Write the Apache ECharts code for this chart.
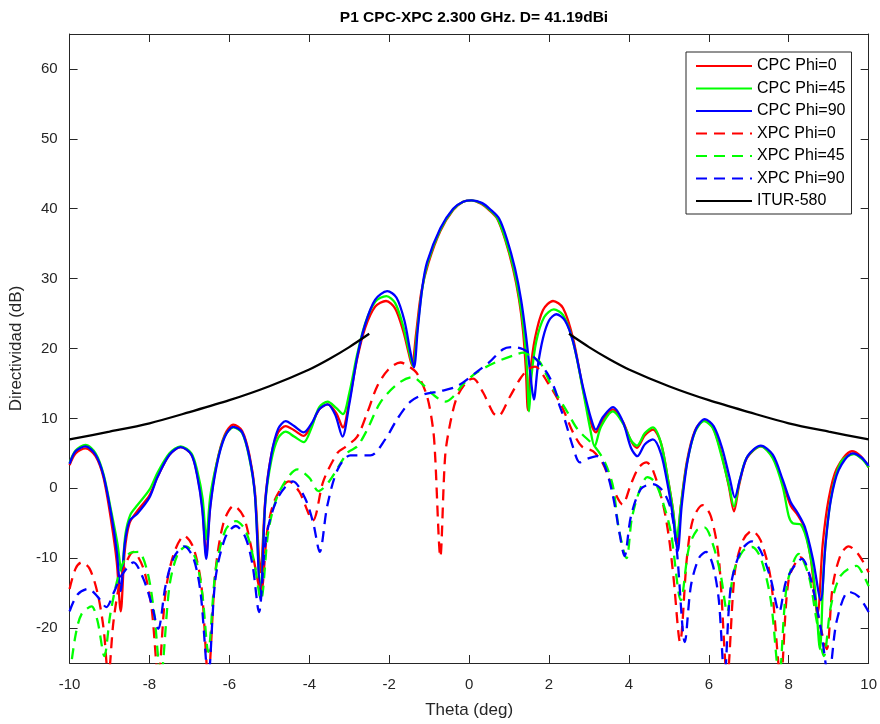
<!DOCTYPE html>
<html>
<head>
<meta charset="utf-8">
<script src="https://cdn.jsdelivr.net/npm/echarts@6/dist/echarts.min.js"></script>
<style>
html,body{margin:0;padding:0;background:#fff;}
#chart{width:880px;height:724px;}
</style>
</head>
<body>
<div id="chart"></div>
<script>
const titleText = 'P1 CPC-XPC 2.300 GHz. D= 41.19dBi';
const seriesNames = ['CPC Phi=0','CPC Phi=45','CPC Phi=90','XPC Phi=0','XPC Phi=45','XPC Phi=90','ITUR-580'];
const xTicks = [-10,-8,-6,-4,-2,0,2,4,6,8,10];
const yTicks = [-20,-10,0,10,20,30,40,50,60];

const cpcPhi0 = [
[-10,3.3],[-9.85,5.0],[-9.6,5.7],[-9.35,4.6],[-9.15,1.5],[-8.95,-5],[-8.82,-10.5],[-8.72,-17.6],[-8.62,-9],[-8.5,-5],[-8.3,-3.2],[-8.0,-1.0],[-7.8,1.6],[-7.5,4.8],[-7.22,5.9],[-6.95,4.8],[-6.8,1.8],[-6.68,-2.5],[-6.58,-9.5],[-6.48,-2.5],[-6.32,3.5],[-6.12,7.6],[-5.9,9.1],[-5.68,8.2],[-5.5,4.8],[-5.36,-0.5],[-5.22,-12],[-5.1,-1.5],[-4.95,4.8],[-4.78,8.0],[-4.59,8.9],[-4.38,8.3],[-4.14,7.5],[-3.95,9.0],[-3.75,11.3],[-3.54,12.0],[-3.33,10.8],[-3.16,8.7],[-3.0,12.5],[-2.8,18.6],[-2.6,23.0],[-2.35,26.0],[-2.08,26.8],[-1.85,25.7],[-1.65,22.5],[-1.52,19.5],[-1.43,17.6],[-1.33,22],[-1.2,28],[-1.02,32.2],[-0.72,36.8],[-0.4,39.8],[-0.15,41.0],[0.05,41.2],[0.3,40.7],[0.5,39.8],[0.7,38.6],[0.9,35.6],[1.1,31.4],[1.25,27],[1.35,22.5],[1.42,17],[1.47,11.2],[1.53,16.5],[1.65,21.5],[1.85,25.5],[2.1,26.8],[2.35,25.8],[2.6,21.5],[2.85,14.2],[3.05,9.3],[3.17,8.0],[3.35,9.8],[3.6,11.3],[3.85,9.5],[4.05,6.8],[4.2,5.8],[4.4,7.6],[4.6,8.4],[4.8,6.5],[4.97,1.5],[5.1,-3],[5.2,-8],[5.3,-2.5],[5.45,3.8],[5.65,8.2],[5.88,9.7],[6.1,8.7],[6.3,5.3],[6.5,0.3],[6.63,-3.3],[6.76,0.5],[6.95,4.3],[7.3,6.0],[7.6,4.5],[7.85,0.8],[8.05,-2.5],[8.22,-3.8],[8.38,-5.5],[8.55,-10],[8.72,-18],[8.85,-8],[9.0,-1.5],[9.2,2.8],[9.58,5.3],[9.8,4.6],[10,3.0]
];
const cpcPhi45 = [
[-10,3.6],[-9.85,5.4],[-9.6,6.2],[-9.35,5.0],[-9.15,2],[-8.95,-3.5],[-8.8,-8],[-8.7,-12],[-8.6,-6.5],[-8.48,-3.8],[-8.3,-2.4],[-8.0,-0.2],[-7.8,2.2],[-7.5,5.0],[-7.22,6.0],[-6.95,5.0],[-6.8,2.4],[-6.67,-1.5],[-6.58,-7.3],[-6.48,-1.2],[-6.32,3.5],[-6.12,7.4],[-5.9,8.7],[-5.68,7.9],[-5.5,4.3],[-5.36,-1],[-5.22,-15],[-5.1,-2],[-4.95,4],[-4.78,7.2],[-4.59,8.1],[-4.38,7.4],[-4.14,6.6],[-3.95,8.6],[-3.75,11.6],[-3.54,12.4],[-3.33,11.5],[-3.16,10.6],[-3.0,13.6],[-2.8,19.2],[-2.6,23.6],[-2.35,26.7],[-2.07,27.5],[-1.85,26.5],[-1.65,23.2],[-1.5,19.5],[-1.40,17.4],[-1.31,22],[-1.18,28.3],[-1.03,32.4],[-0.72,37],[-0.4,39.9],[-0.15,41.0],[0.05,41.2],[0.3,40.8],[0.5,39.9],[0.7,38.7],[0.9,35.8],[1.1,31.8],[1.25,27.5],[1.37,22.5],[1.45,17],[1.50,11.0],[1.56,16],[1.68,21],[1.88,24.5],[2.12,25.6],[2.35,24.8],[2.6,21],[2.85,14],[3.03,8.5],[3.14,6.0],[3.3,8.8],[3.6,11.0],[3.85,9.3],[4.05,6.9],[4.2,6.1],[4.4,7.9],[4.6,8.7],[4.8,6.5],[4.97,1.5],[5.1,-3],[5.2,-7],[5.3,-2.5],[5.45,3.5],[5.65,8.0],[5.88,9.6],[6.1,8.6],[6.3,5.0],[6.5,0.5],[6.63,-2.6],[6.76,0.8],[6.95,4.4],[7.3,6.0],[7.6,4.3],[7.85,0.2],[8.0,-4.0],[8.1,-5.0],[8.3,-5.2],[8.5,-8.5],[8.65,-14],[8.78,-23],[8.88,-11],[9.05,-1.6],[9.3,3.7],[9.63,4.9],[9.85,4.1],[10,3.0]
];
const cpcPhi90 = [
[-10,3.5],[-9.85,5.3],[-9.6,6.0],[-9.35,4.8],[-9.15,1.8],[-8.95,-4],[-8.82,-9],[-8.72,-14.7],[-8.62,-8],[-8.5,-4.7],[-8.3,-3.6],[-8.0,-1.3],[-7.8,1.6],[-7.5,4.8],[-7.22,5.9],[-6.95,4.8],[-6.8,1.6],[-6.68,-3],[-6.58,-10.1],[-6.48,-2.8],[-6.32,3.2],[-6.12,7.3],[-5.9,8.8],[-5.68,8.0],[-5.5,4.5],[-5.36,-1],[-5.22,-16],[-5.1,-1.8],[-4.95,4.8],[-4.78,8.5],[-4.59,9.6],[-4.38,8.9],[-4.14,8.0],[-3.95,9.2],[-3.75,11.3],[-3.54,12.0],[-3.35,10.5],[-3.17,7.4],[-3.0,12.0],[-2.8,18.8],[-2.6,23.5],[-2.35,27.0],[-2.05,28.2],[-1.82,27.3],[-1.62,24],[-1.48,19.8],[-1.38,17.3],[-1.29,22.5],[-1.17,28.8],[-1.05,32.4],[-0.72,37.2],[-0.4,40.0],[-0.15,41.0],[0.07,41.2],[0.33,40.8],[0.55,39.8],[0.75,38.6],[0.95,35.6],[1.15,31.4],[1.3,27],[1.42,22],[1.52,17],[1.62,12.7],[1.72,17.5],[1.85,21.5],[2.0,24],[2.18,24.9],[2.4,24],[2.6,21],[2.85,14.5],[3.05,10],[3.17,8.4],[3.35,10.2],[3.6,11.6],[3.85,9.5],[4.05,5.8],[4.21,4.6],[4.4,6.3],[4.6,7.0],[4.8,5],[4.97,0.5],[5.1,-4],[5.22,-9],[5.32,-2.5],[5.47,4],[5.67,8.4],[5.9,9.9],[6.12,8.9],[6.33,5.8],[6.52,1.5],[6.65,-1.3],[6.78,1.3],[6.97,4.6],[7.3,6.1],[7.6,4.8],[7.85,1.2],[8.05,-2],[8.22,-3.5],[8.4,-5.5],[8.6,-10],[8.8,-16],[8.92,-8],[9.05,-1.8],[9.25,2.6],[9.6,5.0],[9.82,4.4],[10,3.2]
];
const xpcPhi0 = [
[-10,-14.4],[-9.85,-11.5],[-9.7,-10.6],[-9.5,-11.5],[-9.3,-15],[-9.15,-20],[-9.03,-27],[-8.9,-19],[-8.7,-12.5],[-8.4,-9.1],[-8.15,-11.5],[-7.95,-17],[-7.78,-27],[-7.6,-15],[-7.4,-9.5],[-7.13,-6.8],[-6.9,-8.5],[-6.7,-14],[-6.53,-27],[-6.35,-12],[-6.15,-5],[-5.89,-2.5],[-5.65,-4],[-5.45,-8.5],[-5.21,-14.8],[-5.05,-6],[-4.85,-1.5],[-4.51,1.0],[-4.25,-0.5],[-3.91,-4.6],[-3.65,1],[-3.29,5.1],[-3.1,5.9],[-2.8,7.4],[-2.55,10.8],[-2.3,14.6],[-2.02,17],[-1.72,18.0],[-1.5,17.4],[-1.3,16.4],[-1.05,13.1],[-0.9,8.4],[-0.85,4.6],[-0.72,-9.8],[-0.6,4.6],[-0.47,9.4],[-0.3,13.1],[-0.05,15.3],[0.1,15.7],[0.35,13.7],[0.6,10.8],[0.72,10.3],[1.02,13.1],[1.27,15.6],[1.47,17],[1.65,17.4],[1.97,15.1],[2.32,11.7],[2.6,8],[2.82,6],[3.1,5.3],[3.35,3.5],[3.6,0],[3.84,-2.3],[4.05,0.6],[4.25,3],[4.44,3.7],[4.6,2.6],[4.85,-2.2],[5.0,-7],[5.12,-13],[5.28,-22],[5.45,-10],[5.6,-4.5],[5.84,-2.4],[6.05,-4],[6.25,-10],[6.46,-27],[6.65,-12],[6.85,-7.5],[7.08,-6.1],[7.3,-7.5],[7.55,-13],[7.8,-27],[8.0,-13],[8.3,-9.9],[8.55,-13],[8.8,-20],[8.95,-23],[9.1,-14],[9.3,-9.5],[9.5,-8.3],[9.75,-9.5],[10,-12]
];
const xpcPhi45 = [
[-10,-27],[-9.85,-21],[-9.7,-18],[-9.45,-16.9],[-9.3,-19],[-9.13,-24],[-8.98,-18],[-8.75,-12],[-8.5,-9.3],[-8.28,-9.1],[-8.05,-12],[-7.88,-18],[-7.72,-27],[-7.5,-14],[-7.3,-9.5],[-7.08,-8.3],[-6.85,-10],[-6.68,-15],[-6.53,-23.4],[-6.35,-12],[-6.1,-6],[-5.84,-4.7],[-5.6,-6],[-5.4,-10],[-5.21,-15.9],[-5.02,-6],[-4.75,-0.5],[-4.29,2.7],[-4.0,1.5],[-3.77,-0.4],[-3.5,1.0],[-3.04,5.1],[-2.8,6.0],[-2.55,8.4],[-2.22,12.3],[-1.8,14.9],[-1.42,15.9],[-1.17,14.9],[-0.9,13.4],[-0.6,12.4],[-0.4,13.1],[-0.15,14.9],[0.2,16.6],[0.65,18],[1.15,19.1],[1.35,19.4],[1.6,18.7],[1.77,18.1],[2.07,14.6],[2.47,10.8],[2.72,8.4],[3.14,6],[3.4,3.7],[3.6,0.3],[3.75,-5.9],[3.94,-10],[4.07,-4.4],[4.25,-0.6],[4.46,1.6],[4.65,0.9],[4.85,-2],[5.05,-6.3],[5.3,-16],[5.5,-8.5],[5.7,-6],[5.89,-5.6],[6.1,-8],[6.3,-12.5],[6.46,-17.7],[6.62,-12],[6.85,-9],[7.08,-8.4],[7.3,-10],[7.55,-16],[7.76,-27],[7.95,-14],[8.25,-9.4],[8.5,-12.5],[8.7,-19],[8.88,-24],[9.05,-17],[9.3,-12.5],[9.7,-11.1],[9.85,-12.2],[10,-14]
];
const xpcPhi90 = [
[-10,-17.6],[-9.8,-15.2],[-9.53,-14.4],[-9.3,-15.5],[-9.08,-17],[-8.9,-15],[-8.7,-12.5],[-8.4,-10.6],[-8.15,-13],[-7.95,-16.5],[-7.78,-20.1],[-7.6,-14],[-7.4,-10],[-7.13,-8.3],[-6.9,-10],[-6.72,-15],[-6.53,-27],[-6.35,-13],[-6.1,-7],[-5.84,-5.4],[-5.6,-7],[-5.42,-11],[-5.26,-17.7],[-5.08,-7],[-4.8,-1.5],[-4.41,1.0],[-4.1,-1.5],[-3.9,-5],[-3.74,-9.1],[-3.55,-2.5],[-3.29,2.7],[-2.97,4.7],[-2.47,4.7],[-2.1,7],[-1.8,9.9],[-1.47,12.4],[-1.15,13.4],[-0.72,13.9],[-0.3,14.6],[0.2,16.7],[0.5,18],[0.85,19.9],[1.1,20.2],[1.35,19.9],[1.6,18.9],[1.95,16.5],[2.15,14.1],[2.27,11.7],[2.39,9.9],[2.6,5.9],[2.77,3.7],[2.95,4.2],[3.2,4.6],[3.4,3.1],[3.6,-1.1],[3.76,-6.3],[3.89,-9.7],[4.05,-4],[4.3,-0.1],[4.59,0.6],[4.85,-0.4],[5.05,-3],[5.2,-9],[5.4,-22],[5.55,-14],[5.75,-10],[5.93,-9.1],[6.1,-11],[6.25,-16],[6.39,-27],[6.55,-14],[6.8,-9],[7.08,-7.6],[7.3,-9],[7.55,-13],[7.76,-17.7],[7.95,-13],[8.33,-10.1],[8.55,-13],[8.8,-20],[9.0,-27],[9.2,-19],[9.5,-14.8],[9.75,-15.5],[10,-17.7]
];
const itur580 = [
[-10,7.0],[-9,8.1],[-8,9.3],[-7,10.9],[-6,12.6],[-5,14.6],[-4,17.0],[-3.5,18.5],[-3,20.2],[-2.5,22.1],
[0,'-'],
[2.5,22.1],[3,20.2],[3.5,18.5],[4,17.0],[5,14.6],[6,12.6],[7,10.9],[8,9.3],[9,8.1],[10,7.0]
];

const colors = ['#ff0000','#00ff00','#0000ff','#ff0000','#00ff00','#0000ff','#000000'];
const dataSets = [cpcPhi0,cpcPhi45,cpcPhi90,xpcPhi0,xpcPhi45,xpcPhi90,itur580];
const dashed = [false,false,false,true,true,true,false];

const FONT = '"Liberation Sans", Arial, Helvetica, sans-serif';
const AX = '#262626';

const chart = echarts.init(document.getElementById('chart'), null, {renderer:'canvas'});

const series = seriesNames.map((name,i)=>({
  name: name,
  type: 'line',
  data: dataSets[i],
  showSymbol: false,
  symbol: 'none',
  smooth: 0.3,
  clip: true,
  connectNulls: false,
  lineStyle: {color: colors[i], width: 2.3, type: dashed[i] ? [11,7] : 'solid'},
  itemStyle: {color: colors[i]},
  emphasis: {disabled: true},
  z: 2
}));

const option = {
  animation: false,
  backgroundColor: '#ffffff',
  textStyle: {fontFamily: FONT},
  title: {
    text: titleText,
    left: 469,
    top: 5,
    textAlign: 'center',
    textStyle: {fontFamily: FONT, fontSize: 15.5, fontWeight: 'bold', color: '#000'}
  },
  grid: {left: 69, right: 9, top: 34, bottom: 60, containLabel: false},
  legend: {
    data: seriesNames,
    orient: 'vertical',
    left: 686,
    top: 52,
    padding: [6, 6, 5, 9],
    itemWidth: 56,
    itemHeight: 14,
    itemGap: 6.5,
    selectedMode: false,
    backgroundColor: '#ffffff',
    borderColor: AX,
    borderWidth: 1,
    borderRadius: 0,
    itemStyle: {opacity: 0, borderWidth: 0},
    textStyle: {fontFamily: FONT, fontSize: 16, color: '#000', lineHeight: 16}
  },
  xAxis: [
    {
      type: 'value', min: -10, max: 10, interval: 2, position: 'bottom',
      name: 'Theta (deg)', nameLocation: 'middle', nameGap: 39,
      nameTextStyle: {fontFamily: FONT, fontSize: 17, color: AX},
      axisLine: {show: true, onZero: false, lineStyle: {color: AX, width: 1}},
      axisTick: {show: true, inside: true, length: 8, lineStyle: {color: AX}, customValues: xTicks},
      axisLabel: {show: true, margin: 14, fontFamily: FONT, fontSize: 15, color: AX, customValues: xTicks},
      splitLine: {show: false}
    },
    {
      type: 'value', min: -10, max: 10, interval: 2, position: 'top',
      axisLine: {show: true, onZero: false, lineStyle: {color: AX, width: 1}},
      axisTick: {show: true, inside: true, length: 8, lineStyle: {color: AX}, customValues: xTicks},
      axisLabel: {show: false},
      splitLine: {show: false}
    }
  ],
  yAxis: [
    {
      type: 'value', min: -25, max: 65, position: 'left',
      name: 'Directividad (dB)', nameLocation: 'middle', nameGap: 37,
      nameTextStyle: {fontFamily: FONT, fontSize: 17, color: AX},
      axisLine: {show: true, onZero: false, lineStyle: {color: AX, width: 1}},
      axisTick: {show: true, inside: true, length: 8, lineStyle: {color: AX}, customValues: yTicks},
      axisLabel: {show: true, margin: 12, fontFamily: FONT, fontSize: 15, color: AX, customValues: yTicks},
      splitLine: {show: false}
    },
    {
      type: 'value', min: -25, max: 65, position: 'right',
      axisLine: {show: true, onZero: false, lineStyle: {color: AX, width: 1}},
      axisTick: {show: true, inside: true, length: 8, lineStyle: {color: AX}, customValues: yTicks},
      axisLabel: {show: false},
      splitLine: {show: false}
    }
  ],
  series: series
};
chart.setOption(option);
</script>
</body>
</html>
